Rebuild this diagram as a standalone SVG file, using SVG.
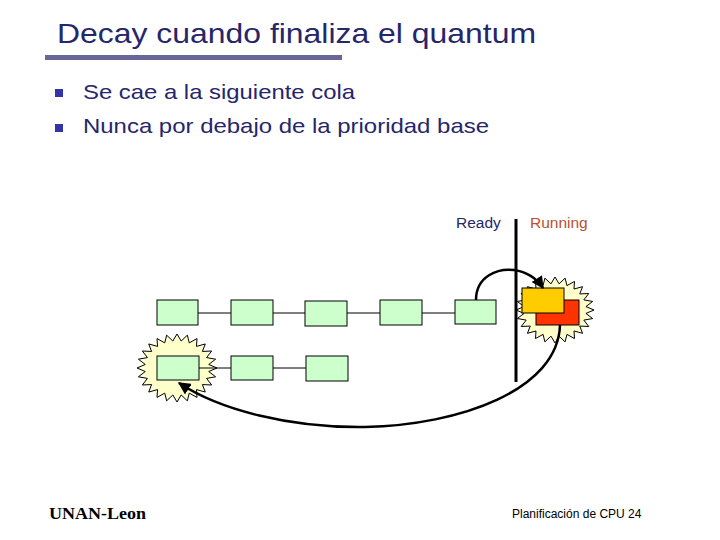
<svg xmlns="http://www.w3.org/2000/svg" width="720" height="540" viewBox="0 0 720 540">
<style>
.title{font-family:"Liberation Sans",Arial,sans-serif;font-size:28px;fill:#26266b}
.bul{font-family:"Liberation Sans",Arial,sans-serif;font-size:21px;fill:#26266b}
.lbl{font-family:"Liberation Sans",Arial,sans-serif;font-size:15.5px}
.box{fill:#ccffcc;stroke:#000;stroke-width:1}
.link{stroke:#000;stroke-width:1;fill:none}
.arc{stroke:#000;stroke-width:2.5;fill:none}
.star{fill:#ffffcc;stroke:#000;stroke-width:1}
</style>
<defs>
<polygon id="burst" points="1,0 0.793,0.104 0.966,0.259 0.739,0.306 0.866,0.5 0.635,0.487 0.707,0.707 0.487,0.635 0.5,0.866 0.306,0.739 0.259,0.966 0.104,0.793 0,1 -0.104,0.793 -0.259,0.966 -0.306,0.739 -0.5,0.866 -0.487,0.635 -0.707,0.707 -0.635,0.487 -0.866,0.5 -0.739,0.306 -0.966,0.259 -0.793,0.104 -1,0 -0.793,-0.104 -0.966,-0.259 -0.739,-0.306 -0.866,-0.5 -0.635,-0.487 -0.707,-0.707 -0.487,-0.635 -0.5,-0.866 -0.306,-0.739 -0.259,-0.966 -0.104,-0.793 0,-1 0.104,-0.793 0.259,-0.966 0.306,-0.739 0.5,-0.866 0.487,-0.635 0.707,-0.707 0.635,-0.487 0.866,-0.5 0.739,-0.306 0.966,-0.259 0.793,-0.104" vector-effect="non-scaling-stroke"/>
<marker id="ah" viewBox="0 0 10 10" refX="9" refY="5" markerWidth="5" markerHeight="5" orient="auto" markerUnits="strokeWidth">
<path d="M0,0 L10,5 L0,10 z" fill="#000"/>
</marker>
</defs>

<g id="title">
<text class="title" x="57" y="43" textLength="479" lengthAdjust="spacingAndGlyphs">Decay cuando finaliza el quantum</text>
<rect x="45" y="55" width="297" height="5" fill="#666699"/>
</g>
<g id="bullets">
<rect x="55" y="89" width="8" height="8" fill="#3333aa"/>
<text class="bul" x="83" y="99" textLength="272" lengthAdjust="spacingAndGlyphs">Se cae a la siguiente cola</text>
<rect x="55" y="124" width="8" height="8" fill="#3333aa"/>
<text class="bul" x="83" y="133" textLength="406" lengthAdjust="spacingAndGlyphs">Nunca por debajo de la prioridad base</text>
</g>

<g id="star-ready"><use href="#burst" class="star" transform="translate(177,368) scale(40,34)"/></g>
<g id="star-running"><use href="#burst" class="star" transform="translate(555,310) scale(39,33)"/></g>

<g id="labels">
<text class="lbl" x="456" y="228" fill="#26266b">Ready</text>
<text class="lbl" x="530" y="228" fill="#b8502e">Running</text>
</g>

<g id="connectors">
<line class="link" x1="198" y1="313" x2="231" y2="313"/>
<line class="link" x1="273" y1="313" x2="305" y2="313"/>
<line class="link" x1="347" y1="313" x2="380" y2="313"/>
<line class="link" x1="422" y1="313" x2="455" y2="313"/>
<line class="link" x1="199" y1="368" x2="231" y2="368"/>
<line class="link" x1="273" y1="368" x2="306" y2="368"/>
</g>

<g id="q1-1"><rect class="box" x="157" y="300" width="41" height="25"/></g>
<g id="q1-2"><rect class="box" x="231" y="300" width="42" height="25"/></g>
<g id="q1-3"><rect class="box" x="305" y="301" width="42" height="25"/></g>
<g id="q1-4"><rect class="box" x="380" y="300" width="42" height="25"/></g>
<g id="q1-5"><rect class="box" x="455" y="300" width="41" height="24"/></g>
<g id="q2-1"><rect class="box" x="157" y="356" width="42" height="24"/></g>
<g id="q2-2"><rect class="box" x="231" y="356" width="42" height="24"/></g>
<g id="q2-3"><rect class="box" x="306" y="356" width="42" height="25"/></g>

<g id="divider"><line x1="516" y1="219" x2="516" y2="382" stroke="#000" stroke-width="3"/></g>

<g id="running">
<rect x="536" y="300" width="43" height="25" fill="#ff3300" stroke="#000" stroke-width="1"/>
<rect x="522" y="288" width="42" height="25" fill="#ffcc00" stroke="#000" stroke-width="1"/>
</g>

<g id="arcs">
<path class="arc" d="M476,300 C476,276 498,268 514,270 C528,272 537,279 543,288" marker-end="url(#ah)"/>
<path class="arc" d="M560,325 C558,390 460,425 365,427 C290,428 220,410 179,383" marker-end="url(#ah)"/>
</g>

<g id="footer">
<text x="49" y="519" font-family="Liberation Serif,'Times New Roman',serif" font-weight="bold" font-size="17" fill="#000" textLength="97" lengthAdjust="spacingAndGlyphs">UNAN-Leon</text>
<text x="512" y="518" font-family="Liberation Sans,Arial,sans-serif" font-size="12" fill="#000">Planificación de CPU 24</text>
</g>
</svg>
